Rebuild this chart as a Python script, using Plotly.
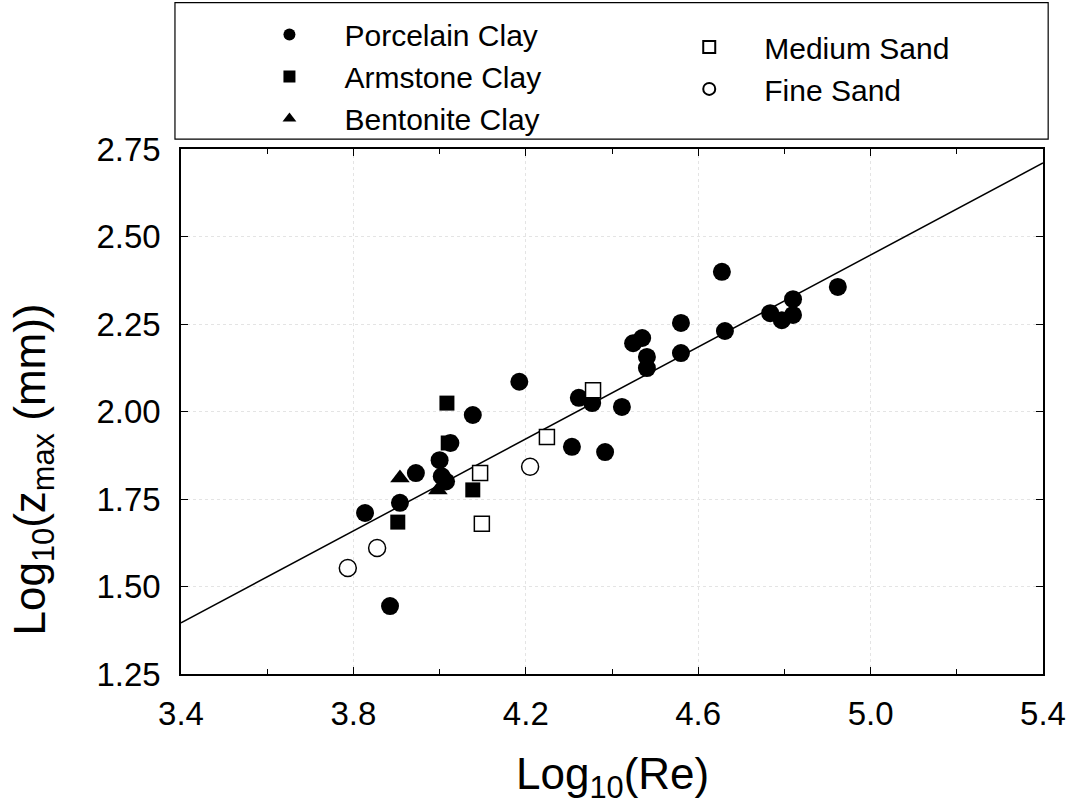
import plotly.graph_objects as go

# ---- data ----
porcelain_x = [3.827, 3.908, 3.885, 3.945, 4.000, 4.005, 4.015, 4.025, 4.077, 4.185,
               4.307, 4.384, 4.323, 4.354, 4.423, 4.449, 4.470, 4.481, 4.481, 4.560,
               4.560, 4.655, 4.662, 4.767, 4.794, 4.820, 4.820, 4.924]
porcelain_y = [1.710, 1.739, 1.444, 1.824, 1.861, 1.815, 1.800, 1.910, 1.990, 2.085,
               1.899, 1.884, 2.039, 2.024, 2.013, 2.195, 2.210, 2.156, 2.124, 2.253,
               2.167, 2.399, 2.230, 2.281, 2.261, 2.321, 2.276, 2.356]

armstone_x = [4.017, 4.020, 4.077, 3.903]
armstone_y = [2.024, 1.910, 1.776, 1.684]

bentonite_x = [3.908, 3.996]
bentonite_y = [1.810, 1.776]

medium_x = [4.094, 4.098, 4.249, 4.356]
medium_y = [1.824, 1.679, 1.927, 2.061]

fine_x = [3.787, 3.855, 4.210]
fine_y = [1.553, 1.610, 1.842]

fit_x = [3.4, 5.4]
fit_y = [1.396, 2.710]

x_ticks = [3.4, 3.8, 4.2, 4.6, 5.0, 5.4]
x_ticklabels = ["3.4", "3.8", "4.2", "4.6", "5.0", "5.4"]
y_ticks = [1.25, 1.50, 1.75, 2.00, 2.25, 2.50, 2.75]
y_ticklabels = ["1.25", "1.50", "1.75", "2.00", "2.25", "2.50", "2.75"]

FONT = "Arial, Liberation Sans, sans-serif"

fig = go.Figure()

fig.add_trace(go.Scatter(x=fit_x, y=fit_y, mode="lines",
                         line=dict(color="black", width=1.5), showlegend=False,
                         hoverinfo="skip"))

fig.add_trace(go.Scatter(x=porcelain_x, y=porcelain_y, mode="markers", name="Porcelain Clay",
                         marker=dict(symbol="circle", size=18, color="black"),
                         legend="legend"))
fig.add_trace(go.Scatter(x=armstone_x, y=armstone_y, mode="markers", name="Armstone Clay",
                         marker=dict(symbol="square", size=15, color="black"),
                         legend="legend"))
fig.add_trace(go.Scatter(x=bentonite_x, y=bentonite_y, mode="markers", name="Bentonite Clay",
                         marker=dict(symbol="triangle-up", size=17, color="black"),
                         legend="legend"))
fig.add_trace(go.Scatter(x=medium_x, y=medium_y, mode="markers", name="Medium Sand",
                         marker=dict(symbol="square", size=15, color="white",
                                     line=dict(color="black", width=1.5)),
                         legend="legend2"))
fig.add_trace(go.Scatter(x=fine_x, y=fine_y, mode="markers", name="Fine Sand",
                         marker=dict(symbol="circle", size=17, color="white",
                                     line=dict(color="black", width=1.5)),
                         legend="legend2"))

axis_common = dict(showline=True, linecolor="black", linewidth=1.5, mirror="ticks",
                   ticks="inside", tickcolor="black", ticklen=7, tickwidth=1,
                   showgrid=True, gridcolor="#e4e4e4", griddash="dot", gridwidth=1,
                   zeroline=False, automargin=False,
                   tickfont=dict(family=FONT, size=33, color="black"))

fig.update_xaxes(range=[3.4, 5.4], tickvals=x_ticks, ticktext=x_ticklabels,
                 ticklabelstandoff=10,
                 minor=dict(dtick=0.2, ticks="inside", ticklen=5, tickcolor="black",
                            showgrid=False),
                 **axis_common)
fig.update_yaxes(range=[1.25, 2.75], tickvals=y_ticks, ticktext=y_ticklabels,
                 ticklabelstandoff=12,
                 **axis_common)

fig.add_annotation(text="Log<sub>10</sub>(Re)", xref="paper", yref="paper",
                   x=0.5, y=-0.197, xanchor="center", yanchor="middle", showarrow=False,
                   font=dict(family=FONT, size=44, color="black"))
fig.add_annotation(text="Log<sub>10</sub>(z<sub>max</sub> (mm))", xref="paper", yref="paper",
                   x=-0.172, y=0.389, xanchor="center", yanchor="middle",
                   textangle=-90, showarrow=False,
                   font=dict(family=FONT, size=44, color="black"))

# box around the legends
fig.add_shape(type="rect", xref="paper", yref="paper",
              x0=-0.007, x1=1.006, y0=1.019, y1=1.279,
              line=dict(color="black", width=1.2), fillcolor="rgba(0,0,0,0)")

legend_font = dict(family=FONT, size=30, color="black")
fig.update_layout(
    width=1077, height=812,
    margin=dict(l=181, r=34, t=149, b=138, autoexpand=False),
    plot_bgcolor="white", paper_bgcolor="white",
    legend=dict(x=0.062, y=1.2675, xanchor="left", yanchor="top", font=legend_font,
                bgcolor="rgba(0,0,0,0)", tracegroupgap=0, itemsizing="constant",
                itemwidth=100),
    legend2=dict(x=0.549, y=1.244, xanchor="left", yanchor="top", font=legend_font,
                 bgcolor="rgba(0,0,0,0)", tracegroupgap=0, itemsizing="constant",
                 itemwidth=100),
)

fig.write_html("out.html", config={"displayModeBar": False},
               post_script="document.body.style.margin='0px';"
                           "document.body.style.overflow='hidden';")
